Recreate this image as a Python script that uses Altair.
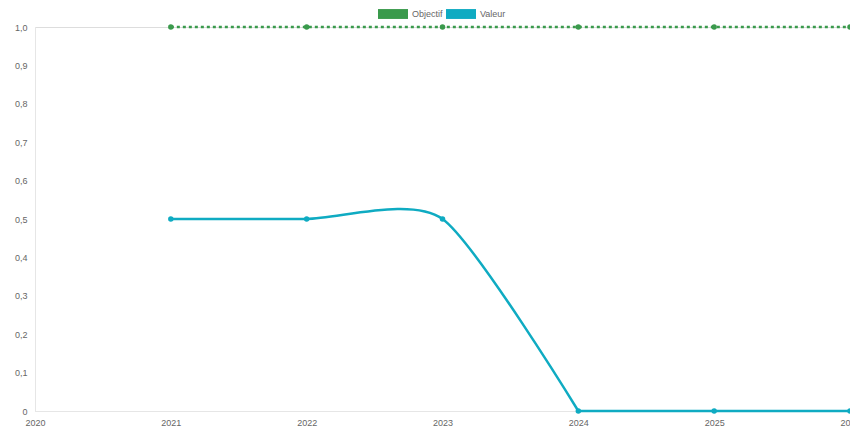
import altair as alt
import pandas as pd

years = [2021, 2022, 2023, 2024, 2025, 2026]
objectif = [1.0, 1.0, 1.0, 1.0, 1.0, 1.0]
valeur = [0.5, 0.5, 0.5, 0.0, 0.0, 0.0]
series = ["Objectif", "Valeur"]
colors = ["#3a9a4c", "#0fabc2"]
x_ticks = [2020, 2021, 2022, 2023, 2024, 2025, 2026]
y_ticks = [0, 0.1, 0.2, 0.3, 0.4, 0.5, 0.6, 0.7, 0.8, 0.9, 1.0]

rows = []
for y, o, v in zip(years, objectif, valeur):
    rows.append({"annee": y, "valeur": o, "serie": "Objectif"})
    rows.append({"annee": y, "valeur": v, "serie": "Valeur"})
df = pd.DataFrame(rows)

FONT = "Liberation Sans"

x = alt.X("annee:Q", scale=alt.Scale(domain=[2020, 2026], nice=False, zero=False),
          axis=alt.Axis(values=x_ticks, format="d", title=None, grid=False, ticks=False,
                        labelPadding=7, labelFontSize=9, labelColor="#666", labelFont=FONT,
                        domainColor="#e6e6e6", labelFlush=False))
y = alt.Y("valeur:Q", scale=alt.Scale(domain=[0, 1], nice=False),
          axis=alt.Axis(values=y_ticks, title=None, grid=False, ticks=False,
                        labelPadding=8, labelFontSize=9, labelColor="#666", labelFont=FONT,
                        domainColor="#e6e6e6",
                        labelExpr="datum.value == 0 ? '0' : replace(format(datum.value, '.1f'), '.', ',')"))
color_nolegend = alt.Color("serie:N", scale=alt.Scale(domain=series, range=colors), legend=None)
color_legend = alt.Color("serie:N", scale=alt.Scale(domain=series, range=colors),
                         legend=alt.Legend(title=None, orient="none", legendX=343, legendY=-28,
                                           direction="horizontal",
                                           symbolType="M-1,-0.33H1V0.33H-1Z", symbolSize=900,
                                           symbolStrokeWidth=0, symbolOpacity=1,
                                           labelFont=FONT, labelFontSize=9, labelColor="#666",
                                           labelOffset=4, columnPadding=3, padding=0))

base = alt.Chart(df)

obj_line = base.transform_filter(alt.datum.serie == "Objectif").mark_line(
    strokeDash=[3, 3], strokeWidth=2.5).encode(x=x, y=y, color=color_nolegend)
val_curve = base.transform_filter(
    (alt.datum.serie == "Valeur") & (alt.datum.annee <= 2024)).mark_line(
    interpolate="cardinal", tension=0.3, strokeWidth=2.5).encode(x=x, y=y, color=color_nolegend)
val_flat = base.transform_filter(
    (alt.datum.serie == "Valeur") & (alt.datum.annee >= 2024)).mark_line(
    strokeWidth=2.5).encode(x=x, y=y, color=color_nolegend)
points = base.mark_point(filled=True, size=30, opacity=1).encode(x=x, y=y, color=color_legend)

chart = alt.layer(obj_line, val_curve, val_flat, points).resolve_legend(
    color="independent"
).properties(
    width=815, height=384,
    autosize=alt.AutoSizeParams(type="none"),
    padding={"left": 27, "top": 19, "right": 0, "bottom": 17},
).configure_view(stroke=None).configure(background="white")

chart.save("out.html", embed_options={"renderer": "svg", "actions": False})
